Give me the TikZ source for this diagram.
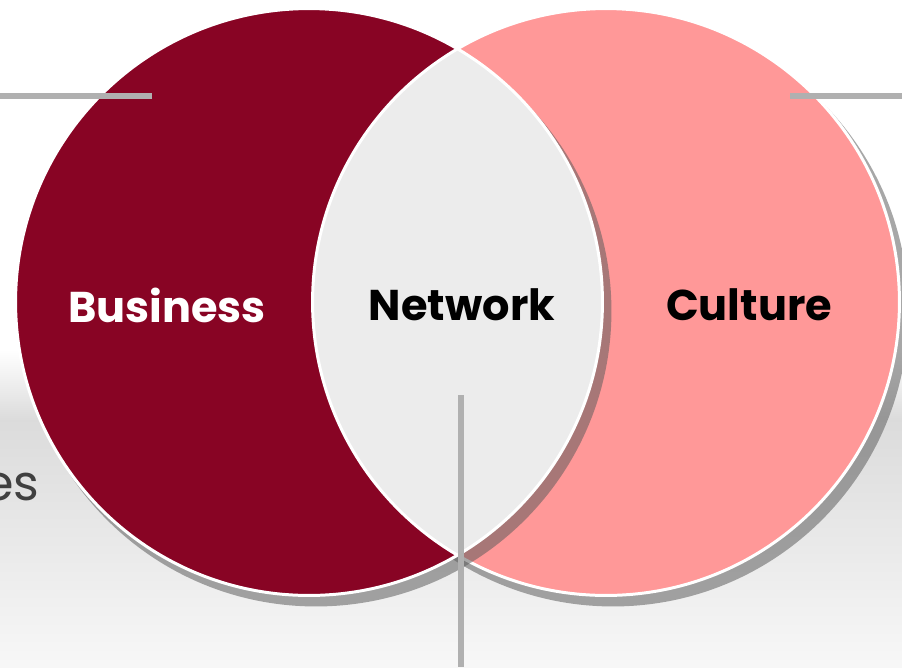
\documentclass[tikz,border=0pt]{standalone}
\usepackage{fontspec}
\setmainfont{Poppins}
\usetikzlibrary{positioning}

\definecolor{bizred}{RGB}{136,4,36}
\definecolor{culpink}{RGB}{255,152,152}
\definecolor{netgray}{RGB}{236,236,236}
\definecolor{linegray}{RGB}{176,176,176}
\definecolor{shadowgray}{RGB}{90,90,90}

\tikzset{
  setlabel/.style={font=\bfseries\fontsize{24.5}{28}\selectfont},
  ring/.style={draw=white,line width=1.7pt},
  dropshadow/.style={fill=shadowgray,fill opacity=0.53},
  callout/.style={draw=linegray,line width=2.9pt}
}

\begin{document}
\begin{tikzpicture}[x=0.02cm,y=-0.02cm]
  \useasboundingbox (0,0) rectangle (902,667);
  \fill[white] (0,0) rectangle (902,667);
  \shade[top color=white,bottom color=black!14] (0,350) rectangle (902,420);
  \shade[top color=black!14,bottom color=black!3] (0,420) rectangle (902,667);
  \def\rad{5.87cm}
  \def\shrad{5.91cm}
  % Culture
  \fill[dropshadow] (613,311) circle (\shrad);
  \fill[culpink] (606,302) circle (\rad);
  \draw[ring] (606,302) circle (\rad);
  % Business
  \fill[dropshadow] (316,311) circle (\shrad);
  \fill[bizred] (309,302) circle (\rad);
  % Network = overlap
  \begin{scope}
    \clip (606,302) circle (\rad);
    \fill[netgray] (309,302) circle (\rad);
  \end{scope}
  \begin{scope}
    \clip (309,302) circle (\rad);
    \draw[ring] (606,302) circle (\rad);
  \end{scope}
  \draw[ring] (309,302) circle (\rad);

  \node[setlabel,text=white] (business) at (167,305) {Business};
  \node[setlabel] (network) at (462,305) {Network};
  \node[setlabel] (culture) at (749,305) {Culture};
  \node[font=\fontsize{28}{32}\selectfont,text=black!75,inner sep=0pt,anchor=base east] (leftnote) at (40,500) {es};

  \coordinate (bizout) at (0,96);
  \coordinate (bizin) at (152,96);
  \coordinate (culin) at (790,96);
  \coordinate (culout) at (902,96);
  \coordinate (netin) at (461,395);
  \coordinate (netout) at (461,667);
  \draw[callout] (bizout) -- (bizin);
  \draw[callout] (culin) -- (culout);
  \draw[callout] (netin) -- (netout);
\end{tikzpicture}
\end{document}
